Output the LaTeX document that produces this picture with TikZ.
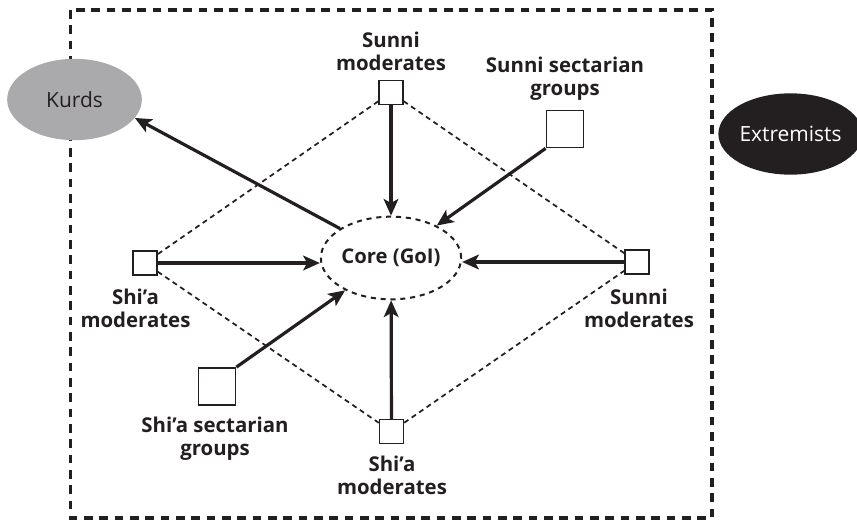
\documentclass[tikz,border=0pt]{standalone}
\usepackage{fontspec}
\setmainfont{Open Sans}
\usetikzlibrary{arrows.meta,shapes.geometric}
\definecolor{ink}{RGB}{35,31,32}
\definecolor{kurdgray}{RGB}{170,170,172}

\tikzset{
  actor/.style={draw=ink,line width=1.1pt,fill=white,minimum size=18pt,inner sep=0pt},
  bigactor/.style={actor,minimum size=28pt},
  lbl/.style={text=ink,align=center,inner sep=0pt,font=\bfseries\fontsize{15.3}{17.25}\selectfont},
  party/.style={ellipse,inner sep=0pt,minimum width=101pt,minimum height=61pt,font=\fontsize{15.7}{18}\selectfont},
  push/.style={draw=ink,line width=2.4pt,-{Stealth[length=12.5pt,width=11pt,inset=3pt]}},
  link/.style={draw=ink,line width=1.3pt,dash pattern={on 3.8pt off 3pt}},
}

\begin{document}
\begin{tikzpicture}[x=0.75pt,y=0.75pt,yscale=-1,xscale=1]
\useasboundingbox (0,0) rectangle (857,522);

%Shape: Rectangle (outer border)
\draw [ink,line width=2.3pt,dash pattern={on 6.5pt off 5pt}] (70.7,10) rectangle (712,518);

%Shape: Ellipse (outside parties)
\node [party,fill=kurdgray,text=ink] (kurds) at (74.5,99.5) {Kurds};
\node [party,fill=ink,text=white] (extremists) at (790.5,134) {Extremists};

%Shape: Ellipse (core)
\node [ellipse,draw=ink,line width=1.5pt,dash pattern={on 3.8pt off 3.6pt},minimum width=102pt,minimum height=62pt,inner sep=0pt,text=ink,font=\bfseries\fontsize{15.2}{18}\selectfont] (core) at (391,258) {Core (GoI)};

%Shape: Squares (groups)
\node [actor] (sunmodtop) at (391,92.5) {};
\node [actor] (shimodleft) at (145,263) {};
\node [actor] (sunmodright) at (637,262) {};
\node [actor] (shimodbottom) at (391.5,431.5) {};
\node [bigactor] (sunsect) at (565,129) {};
\node [bigactor] (shisect) at (217,386.5) {};

% Text Node
\node [lbl] (sunmodtoplbl) at (391,51.5) {Sunni\\moderates};
% Text Node
\node [lbl] (sunsectlbl) at (565,78.5) {Sunni sectarian\\groups};
% Text Node
\node [lbl] (shimodleftlbl) at (135.5,308) {Shi’a\\moderates};
% Text Node
\node [lbl] (sunmodrightlbl) at (639,308) {Sunni\\moderates};
% Text Node
\node [lbl] (shisectlbl) at (215,438.5) {Shi’a sectarian\\groups};
% Text Node
\node [lbl] (shimodbottomlbl) at (392,475) {Shi’a\\moderates};

%Dashed Lines (moderates)
\draw [link] (sunmodtop) -- (shimodleft) -- (shimodbottom) -- (sunmodright) -- (sunmodtop);

%Straight Lines (arrows)
\draw [push] (sunmodtop) -- (core);
\draw [push] (shimodbottom) -- (core);
\draw [push] (shimodleft.east) -- (core.west |- shimodleft);
\draw [push] (sunmodright.west) -- (core.east |- sunmodright);
\draw [push] (sunsect.south west) -- (core);
\draw [push] (shisect.north east) -- (core);
\draw [push] (core.150) -- (kurds.-17);
\end{tikzpicture}
\end{document}
